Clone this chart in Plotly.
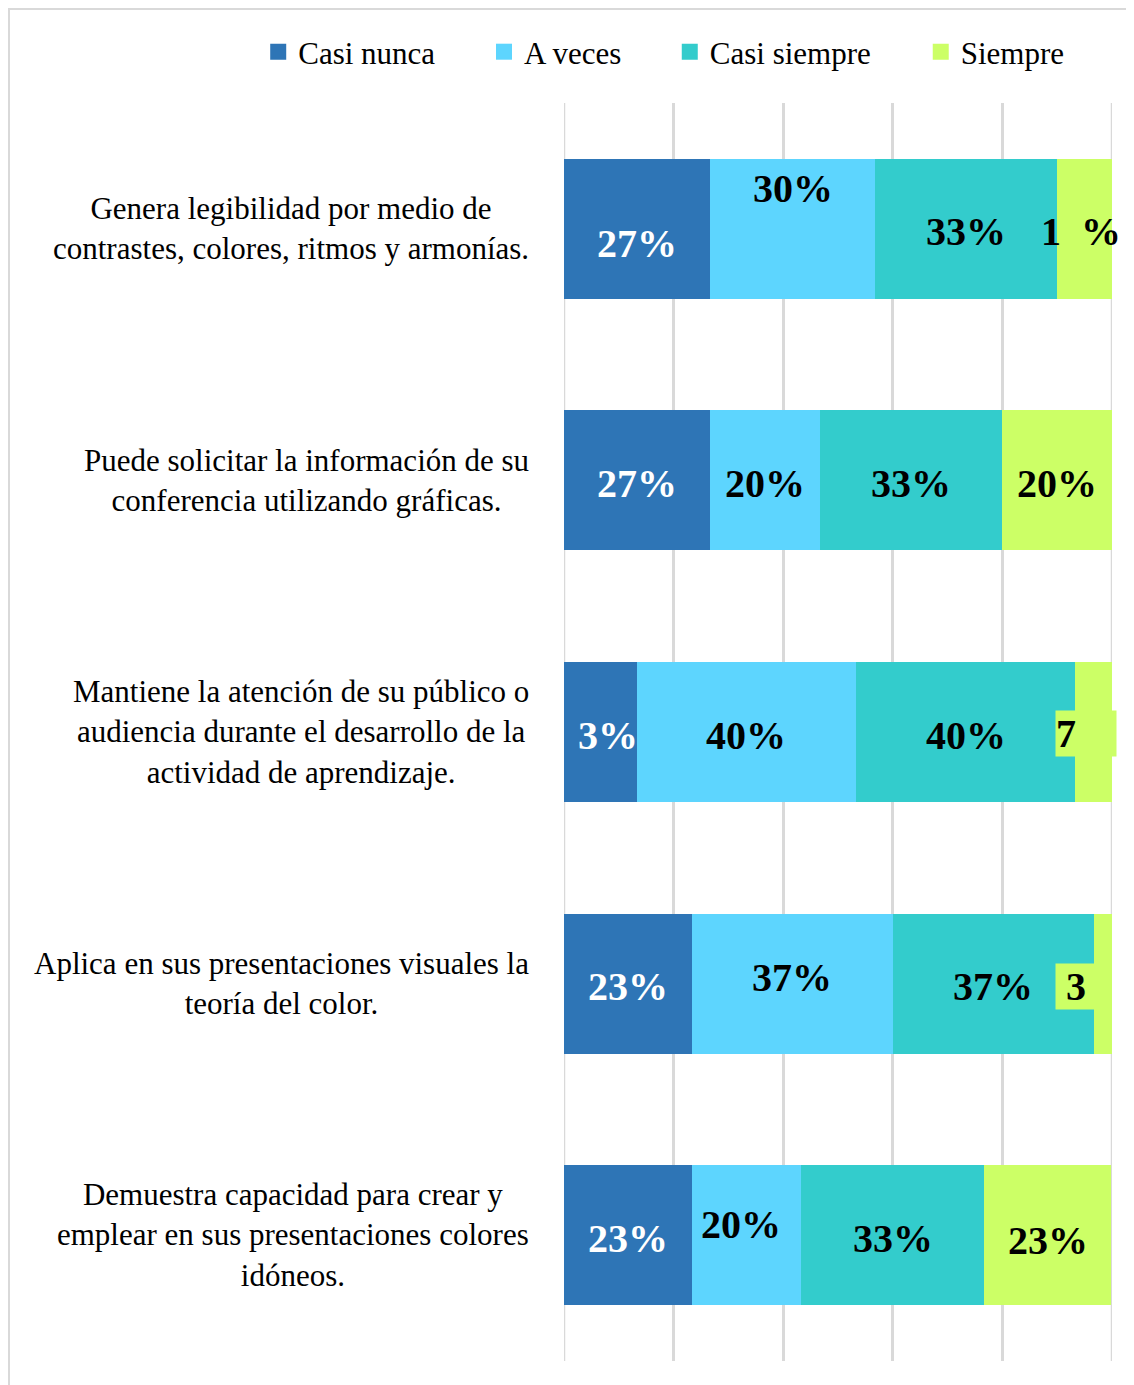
import plotly.graph_objects as go

categories = [
    "Genera legibilidad por medio de<br>contrastes, colores, ritmos y armonías.",
    "Puede solicitar la información de su<br>conferencia utilizando gráficas.",
    "Mantiene la atención de su público o<br>audiencia durante el desarrollo de la<br>actividad de aprendizaje.",
    "Aplica en sus presentaciones visuales la<br>teoría del color.",
    "Demuestra capacidad para crear y<br>emplear en sus presentaciones colores<br>idóneos.",
]

series_names = ["Casi nunca", "A veces", "Casi siempre", "Siempre"]

casi_nunca = [26.7, 26.7, 13.3, 23.3, 23.3]
a_veces = [30.0, 20.0, 40.0, 36.7, 20.0]
casi_siempre = [33.3, 33.3, 40.0, 36.7, 33.3]
siempre = [10.0, 20.0, 6.7, 3.3, 23.3]

# data labels as they appear in the picture
lbl_casi_nunca = ["27%", "27%", "3%", "23%", "23%"]
lbl_a_veces = ["30%", "20%", "40%", "37%", "20%"]
lbl_casi_siempre = ["33%", "33%", "40%", "37%", "33%"]
lbl_siempre = ["1<span style='color:#CCFF66'>0</span>%", "20%",
               "7<span style='color:#CCFF66'>%</span>", "&nbsp;3&nbsp;", "23%"]

colors = ['#2E75B6', '#5DD5FE', '#33CCCC', '#CCFF66']
label_colors = ['white', 'black', 'black', 'black']

# label offsets (px) per series/row, style only
label_yshift = [
    [-15, -3, -3, -3, -3],
    [40, -3, -3, 6, 11],
    [-3, -3, -3, -3, -3],
    [-3, -3, -1, -3, -5],
]
label_xshift = [
    [0, 0, 8, 0, 0],
    [0, 0, 0, 0, -5],
    [0, 0, 0, 0, 0],
    [-4, 0, -8, -27, 0],
]
label_bg = [
    [None] * 5,
    [None] * 5,
    [None] * 5,
    [None, None, '#CCFF66', '#CCFF66', None],
]

# legend boxes (paper x), one legend per series
legend_x = [-0.558, -0.146, 0.193, 0.651]

values = [casi_nunca, a_veces, casi_siempre, siempre]
labels = [lbl_casi_nunca, lbl_a_veces, lbl_casi_siempre, lbl_siempre]
legend_ids = ['legend', 'legend2', 'legend3', 'legend4']

fig = go.Figure()

for name, vals, color in zip(series_names, values, colors):
    fig.add_trace(go.Bar(name=name,
                         y=categories,
                         x=[v / 100 for v in vals],
                         orientation='h',
                         marker=dict(color=color, line_width=0),
                         showlegend=False,
                         hoverinfo='skip'))

# legend entries with bigger square swatches
for name, color, lid in zip(series_names, colors, legend_ids):
    fig.add_trace(go.Scatter(name=name,
                             x=[None], y=[None],
                             mode='markers',
                             marker=dict(symbol='square', size=16, color=color),
                             legend=lid,
                             hoverinfo='skip'))

# data labels at the middle of each segment
for s, vals in enumerate(values):
    for i, cat in enumerate(categories):
        start = sum(values[k][i] for k in range(s)) / 100
        mid = start + vals[i] / 200
        fig.add_annotation(x=mid, y=cat, xref='x', yref='y',
                           text='<b>' + labels[s][i] + '</b>',
                           showarrow=False,
                           xshift=label_xshift[s][i],
                           yshift=label_yshift[s][i],
                           bgcolor=label_bg[s][i],
                           borderpad=0,
                           font=dict(family='Liberation Serif', size=40,
                                     color=label_colors[s]))

# category labels, centred lines
for cat in categories:
    fig.add_annotation(x=0, y=cat, xref='paper', yref='y',
                       text=cat, showarrow=False,
                       xanchor='right', align='center', xshift=-33,
                       font=dict(family='Liberation Serif', size=31,
                                 color='black'))

# gridlines at the ends of the axis
for xv in [0, 1]:
    fig.add_shape(type='line', xref='x', yref='paper',
                  x0=xv, x1=xv, y0=0, y1=1, layer='below',
                  line=dict(color='#D9D9D9', width=2.5))

# chart border
fig.add_shape(type='rect', xref='paper', yref='paper',
              x0=-1.0128, x1=1.1, y0=-0.1, y1=1.0747,
              line=dict(color='#D9D9D9', width=2))

legend_style = dict(orientation='h',
                    xanchor='left',
                    y=1.0405,
                    yanchor='middle',
                    font=dict(family='Liberation Serif', size=31, color='black'),
                    bgcolor='rgba(0,0,0,0)')

fig.update_layout(
    barmode='stack',
    bargap=0.444,
    width=1126,
    height=1377,
    margin=dict(l=556, r=22, t=95, b=24),
    plot_bgcolor='white',
    paper_bgcolor='white',
    font=dict(family='Liberation Serif', color='black'),
    xaxis=dict(range=[0, 1],
               dtick=0.2,
               showgrid=True,
               gridcolor='#D9D9D9',
               gridwidth=2.5,
               zeroline=False,
               showticklabels=False,
               fixedrange=True),
    yaxis=dict(autorange='reversed',
               showticklabels=False,
               showgrid=False,
               zeroline=False,
               fixedrange=True),
    legend=dict(legend_style, x=legend_x[0]),
    legend2=dict(legend_style, x=legend_x[1]),
    legend3=dict(legend_style, x=legend_x[2]),
    legend4=dict(legend_style, x=legend_x[3]),
    showlegend=True,
)

fig.write_html("out.html")
